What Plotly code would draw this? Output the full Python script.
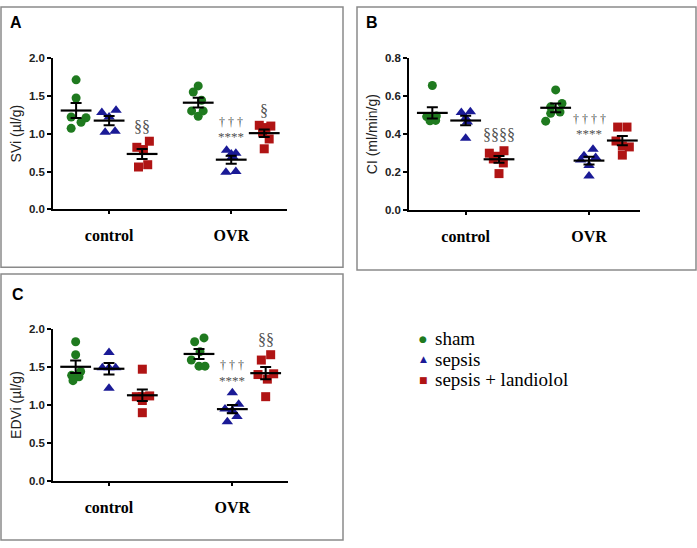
import numpy as np
import plotly.graph_objects as go

# ---------------- data ----------------
group_names = ["sham", "sepsis", "sepsis + landiolol"]
conditions = ["control", "OVR"]

# Panel A: SVi (µl/g)
svi_ctrl_sham = [1.71, 1.47, 1.22, 1.21, 1.15, 1.07]
svi_ctrl_sep = [1.28, 1.22, 1.31, 1.02, 1.03]
svi_ctrl_lan = [0.82, 0.79, 0.90, 0.56, 0.59]
svi_ovr_sham = [1.63, 1.55, 1.44, 1.30, 1.30, 1.23]
svi_ovr_sep = [0.78, 0.74, 0.73, 0.70, 0.49, 0.50]
svi_ovr_lan = [1.11, 1.08, 1.10, 1.02, 0.93, 0.80]

# Panel B: CI (ml/min/g)
ci_ctrl_sham = [0.655, 0.492, 0.484, 0.495, 0.470, 0.472]
ci_ctrl_sep = [0.514, 0.518, 0.484, 0.463, 0.378]
ci_ctrl_lan = [0.300, 0.284, 0.313, 0.249, 0.193, 0.270]
ci_ovr_sham = [0.632, 0.561, 0.543, 0.516, 0.509, 0.468]
ci_ovr_sep = [0.321, 0.287, 0.278, 0.265, 0.236, 0.180]
ci_ovr_lan = [0.437, 0.437, 0.364, 0.338, 0.333, 0.290]

# Panel C: EDVi (µl/g)
edvi_ctrl_sham = [1.83, 1.66, 1.44, 1.39, 1.37, 1.32]
edvi_ctrl_sep = [1.69, 1.49, 1.49, 1.49, 1.22]
edvi_ctrl_lan = [1.47, 1.11, 1.11, 1.12, 1.06, 0.90]
edvi_ovr_sham = [1.83, 1.88, 1.70, 1.59, 1.51, 1.51]
edvi_ovr_sep = [1.16, 1.01, 0.95, 0.93, 0.85, 0.78]
edvi_ovr_lan = [1.59, 1.66, 1.40, 1.34, 1.41, 1.11]

# horizontal scatter (jitter) offsets of each point, in group widths
svi_ctrl_sham_jit = [0.0, 0.0, -0.15, 0.30, 0.15, -0.15]
svi_ctrl_sep_jit = [-0.22, 0.0, 0.21, -0.12, 0.18]
svi_ctrl_lan_jit = [-0.16, 0.04, 0.22, -0.11, 0.17]
svi_ovr_sham_jit = [0.0, -0.15, 0.10, -0.20, 0.15, 0.0]
svi_ovr_sep_jit = [-0.14, 0.14, 0.0, 0.04, -0.16, 0.14]
svi_ovr_lan_jit = [-0.15, 0.05, 0.20, -0.05, 0.15, 0.0]

ci_ctrl_sham_jit = [0.0, -0.17, 0.0, 0.12, -0.07, 0.10]
ci_ctrl_sep_jit = [-0.13, 0.14, 0.0, 0.05, 0.0]
ci_ctrl_lan_jit = [-0.29, -0.07, 0.15, 0.13, 0.0, -0.17]
ci_ovr_sham_jit = [0.0, 0.19, -0.15, 0.13, -0.15, -0.30]
ci_ovr_sep_jit = [0.12, -0.15, 0.20, -0.25, 0.0, 0.0]
ci_ovr_lan_jit = [-0.14, 0.14, -0.19, 0.0, 0.21, 0.0]

edvi_ctrl_sham_jit = [0.0, 0.0, 0.15, -0.12, 0.10, -0.08]
edvi_ctrl_sep_jit = [0.0, -0.20, 0.0, 0.20, 0.0]
edvi_ctrl_lan_jit = [0.0, -0.18, 0.0, 0.22, 0.0, 0.0]
edvi_ovr_sham_jit = [-0.13, 0.15, 0.03, -0.23, 0.0, 0.18]
edvi_ovr_sep_jit = [0.0, 0.19, -0.22, 0.0, 0.14, -0.15]
edvi_ovr_lan_jit = [-0.13, 0.15, -0.23, 0.05, 0.24, 0.0]

# ---------------- styling ----------------
colors = ["#1f7a1f", "#1a1a96", "#b01414"]
symbols = ["circle", "triangle-up", "square"]
legend_glyphs = ["●", "▲", "■"]
msizes = [9, 10, 9]
cond_base = [0.0, 3.7]
SERIF = "Times New Roman, Liberation Serif, DejaVu Serif, serif"
SANS = "Arial, Liberation Sans, DejaVu Sans, sans-serif"

panels = [
    dict(key="A", title="SVi (µl/g)", rng=[0, 2.0], dtick=0.5, xr=[-0.70, 6.39],
         xd=[53 / 697, 287 / 697], yd=[1 - 208 / 548, 1 - 53 / 548],
         data=[[svi_ctrl_sham, svi_ctrl_sep, svi_ctrl_lan], [svi_ovr_sham, svi_ovr_sep, svi_ovr_lan]],
         jit=[[svi_ctrl_sham_jit, svi_ctrl_sep_jit, svi_ctrl_lan_jit], [svi_ovr_sham_jit, svi_ovr_sep_jit, svi_ovr_lan_jit]]),
    dict(key="B", title="CI (ml/min/g)", rng=[0, 0.8], dtick=0.2, xr=[-0.70, 6.23],
         xd=[409 / 697, 640 / 697], yd=[1 - 209 / 548, 1 - 53 / 548],
         data=[[ci_ctrl_sham, ci_ctrl_sep, ci_ctrl_lan], [ci_ovr_sham, ci_ovr_sep, ci_ovr_lan]],
         jit=[[ci_ctrl_sham_jit, ci_ctrl_sep_jit, ci_ctrl_lan_jit], [ci_ovr_sham_jit, ci_ovr_sep_jit, ci_ovr_lan_jit]]),
    dict(key="C", title="EDVi (µl/g)", rng=[0, 2.0], dtick=0.5, xr=[-0.68, 6.37],
         xd=[53 / 697, 288 / 697], yd=[1 - 486 / 548, 1 - 330 / 548],
         data=[[edvi_ctrl_sham, edvi_ctrl_sep, edvi_ctrl_lan], [edvi_ovr_sham, edvi_ovr_sep, edvi_ovr_lan]],
         jit=[[edvi_ctrl_sham_jit, edvi_ctrl_sep_jit, edvi_ctrl_lan_jit], [edvi_ovr_sham_jit, edvi_ovr_sep_jit, edvi_ovr_lan_jit]]),
]

fig = go.Figure()

for pi, p in enumerate(panels):
    sfx = "" if pi == 0 else str(pi + 1)
    xa, ya = "x" + sfx, "y" + sfx
    for ci, cond in enumerate(conditions):
        for gi in range(3):
            vals = np.array(p["data"][ci][gi], dtype=float)
            xc = cond_base[ci] + gi
            xs = xc + np.array(p["jit"][ci][gi])
            fig.add_trace(go.Scatter(
                x=xs, y=vals, mode="markers", xaxis=xa, yaxis=ya,
                marker=dict(symbol=symbols[gi], color=colors[gi], size=msizes[gi],
                            line=dict(width=0)),
                name=group_names[gi], showlegend=False,
                cliponaxis=False, hoverinfo="y"))
            mean = vals.mean()
            sem = vals.std(ddof=1) / np.sqrt(len(vals))
            fig.add_trace(go.Scatter(
                x=[xc], y=[mean], mode="markers", xaxis=xa, yaxis=ya,
                marker=dict(symbol="line-ew", size=22, color="black",
                            line=dict(width=2.2, color="black")),
                error_y=dict(type="constant", value=sem, width=5.5, thickness=2, color="black"),
                showlegend=False, cliponaxis=False, hoverinfo="skip"))

    axis_x = dict(domain=p["xd"], range=p["xr"], anchor=ya, showline=True, linecolor="black",
                  linewidth=1.5, showgrid=False, zeroline=False, ticks="outside", ticklen=3,
                  tickwidth=1.5, tickcolor="black", tickvals=[1, cond_base[1] + 1],
                  ticktext=conditions, ticklabelstandoff=8,
                  tickfont=dict(family=SERIF, size=16, color="black", weight="bold"))
    axis_y = dict(domain=p["yd"], range=p["rng"], anchor=xa, showline=True, linecolor="black",
                  linewidth=1.5, showgrid=False, zeroline=False, ticks="outside", ticklen=4,
                  tickwidth=1.5, tickcolor="black", dtick=p["dtick"], tickformat=".1f",
                  tickfont=dict(family=SANS, size=11.5, color="#222", weight="bold"),
                  title=dict(text=p["title"], standoff=4,
                             font=dict(family=SANS, size=14, color="#222")))
    fig.layout["xaxis" + sfx] = axis_x
    fig.layout["yaxis" + sfx] = axis_y

# significance marks
ann_font_s = dict(family=SERIF, size=16, color="#505050")
ann_font_d = dict(family=SERIF, size=12, color="#505050")
ann_font_a = dict(family=SERIF, size=13, color="#505050")
marks = [
    ("", 2, 1.09, "§§", ann_font_s),
    ("", 4.7, 1.16, "† † †", ann_font_d),
    ("", 4.7, 0.96, "****", ann_font_a),
    ("", 5.7, 1.30, "§", ann_font_s),
    ("2", 2, 0.398, "§§§§", ann_font_s),
    ("2", 4.7, 0.478, "† † † †", ann_font_d),
    ("2", 4.7, 0.403, "****", ann_font_a),
    ("3", 4.7, 1.52, "† † †", ann_font_d),
    ("3", 4.7, 1.32, "****", ann_font_a),
    ("3", 5.7, 1.86, "§§", ann_font_s),
]
annotations = []
for sfx, x, y, t, f in marks:
    annotations.append(dict(x=x, y=y, xref="x" + sfx, yref="y" + sfx, text=t,
                            showarrow=False, font=f))
for key, px, py in [("A", 16, 17), ("B", 372, 17), ("C", 18, 295)]:
    annotations.append(dict(x=px / 697, y=1 - py / 548, xref="paper", yref="paper", text="<b>" + key + "</b>",
                            showarrow=False, xanchor="center", yanchor="middle",
                            font=dict(family=SANS, size=16, color="black")))

# legend (drawn as text: coloured glyph + label)
legend_rows_y = [340, 361, 382]
for gi, name in enumerate(group_names):
    yy = 1 - legend_rows_y[gi] / 548
    annotations.append(dict(x=423 / 697, y=yy, xref="paper", yref="paper", text=legend_glyphs[gi],
                            showarrow=False, xanchor="center", yanchor="middle",
                            font=dict(family="DejaVu Sans", size=9, color=colors[gi])))
    annotations.append(dict(x=433 / 697, y=yy, xref="paper", yref="paper", text=name,
                            showarrow=False, xanchor="left", yanchor="middle",
                            font=dict(family=SERIF, size=19, color="black")))

# panel frames
boxes = [(1, 1, 343, 267), (357, 1, 696, 270), (1, 274, 343, 546)]
shapes = [dict(type="rect", xref="paper", yref="paper", x0=x0 / 697, x1=x1 / 697,
               y0=1 - y1 / 548, y1=1 - y0 / 548, line=dict(color="#8a8a8a", width=1.5))
          for x0, y0, x1, y1 in boxes]

fig.update_layout(
    width=697, height=548, margin=dict(l=0, r=0, t=0, b=0),
    paper_bgcolor="white", plot_bgcolor="white",
    annotations=annotations, shapes=shapes, showlegend=False,
)

post = ("document.documentElement.style.margin='0';document.body.style.margin='0';"
        "document.body.style.overflow='hidden';document.documentElement.style.overflow='hidden';"
        "var d=document.getElementById('{plot_id}');d.style.position='fixed';"
        "d.style.top='0px';d.style.left='0px';")
fig.write_html("out.html", config={"displayModeBar": False}, post_script=post)
